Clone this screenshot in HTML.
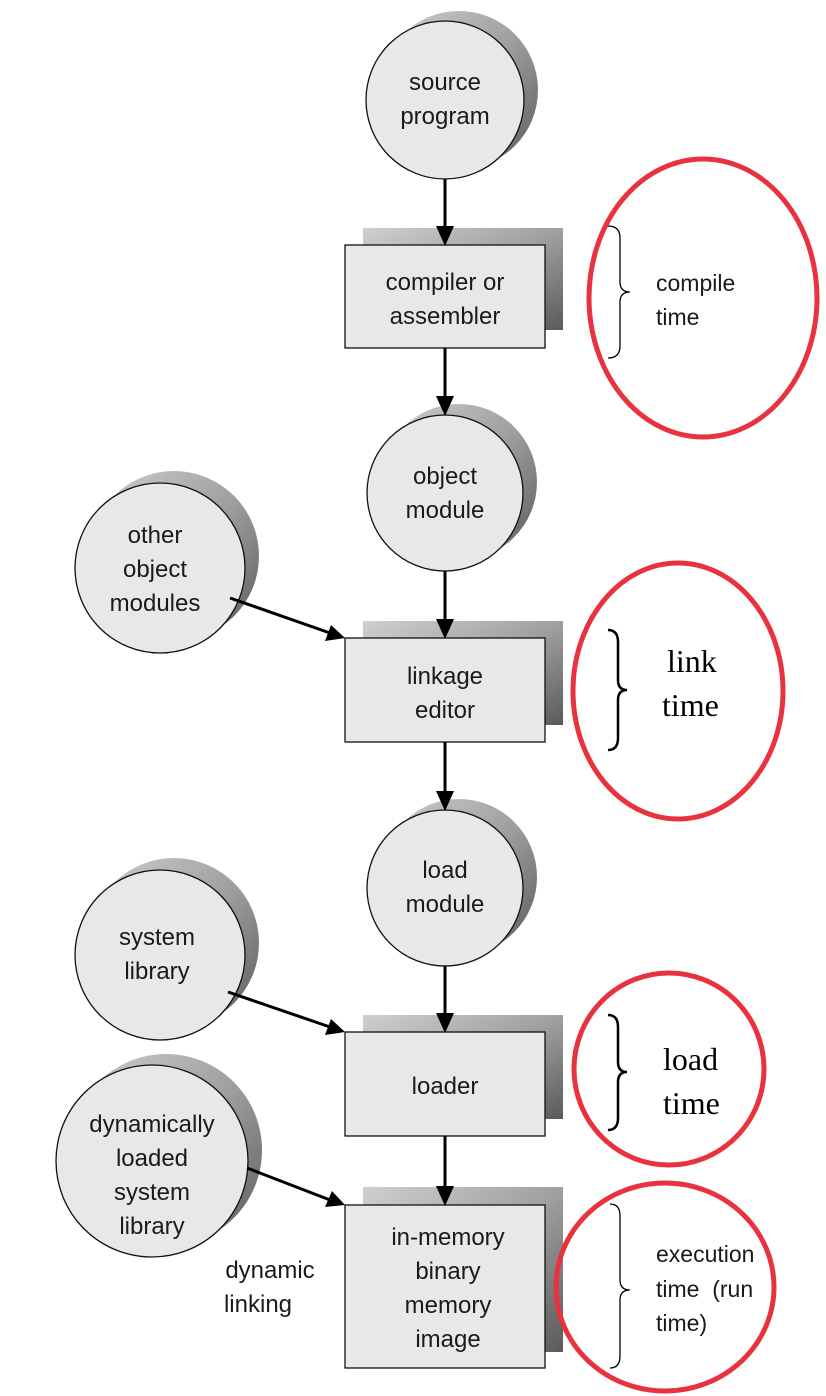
<!DOCTYPE html>
<html><head><meta charset="utf-8"><style>
html,body{margin:0;padding:0;background:#fff;}
svg{display:block;}
.n{font-family:"Liberation Sans",Arial,Helvetica,sans-serif;font-size:24px;fill:#1a1a1a;text-anchor:middle;}
.s{font-family:"Liberation Sans",Arial,Helvetica,sans-serif;font-size:23px;fill:#1a1a1a;}
.r{font-family:"Liberation Serif","Times New Roman",serif;font-size:32px;fill:#000;}
</style></head><body>
<svg width="826" height="1396" viewBox="0 0 826 1396" xmlns="http://www.w3.org/2000/svg">
<defs>
<linearGradient id="sh" x1="0" y1="0" x2="1" y2="1">
<stop offset="0" stop-color="#cfcfcf"/><stop offset="0.5" stop-color="#a0a0a0"/><stop offset="1" stop-color="#5a5a5a"/>
</linearGradient>
</defs>
<g fill="url(#sh)">
<circle cx="459" cy="90" r="79"/>
<rect x="363" y="228" width="200" height="102"/>
<circle cx="459" cy="482" r="78"/>
<rect x="363" y="621" width="200" height="104"/>
<circle cx="459" cy="877" r="78"/>
<rect x="363" y="1015" width="200" height="104"/>
<rect x="363" y="1187" width="200" height="165"/>
<circle cx="174" cy="556" r="85"/>
<circle cx="174" cy="943" r="85"/>
<circle cx="166" cy="1150" r="96"/>
</g>
<g fill="#e8e8e8" stroke="#111" stroke-width="1.3">
<circle cx="445" cy="100" r="79"/>
<rect x="345" y="245" width="200" height="103"/>
<circle cx="445" cy="493" r="78"/>
<rect x="345" y="638" width="200" height="104"/>
<circle cx="445" cy="888" r="78"/>
<rect x="345" y="1032" width="200" height="104"/>
<rect x="345" y="1205" width="200" height="163"/>
<circle cx="160" cy="568" r="85"/>
<circle cx="160" cy="955" r="85"/>
<circle cx="152" cy="1161" r="96"/>
</g>
<g stroke="#000" stroke-width="3" fill="none">
<line x1="445" y1="179" x2="445" y2="228"/>
<line x1="445" y1="348" x2="445" y2="398"/>
<line x1="445" y1="571" x2="445" y2="621"/>
<line x1="445" y1="742" x2="445" y2="793"/>
<line x1="445" y1="966" x2="445" y2="1015"/>
<line x1="445" y1="1136" x2="445" y2="1188"/>
<line x1="230" y1="598" x2="330" y2="633"/>
<line x1="228" y1="992" x2="330" y2="1027"/>
<line x1="247" y1="1168" x2="330" y2="1200"/>
</g>
<g fill="#000">
<polygon points="436,226 454,226 445,246"/>
<polygon points="436,396 454,396 445,416"/>
<polygon points="436,619 454,619 445,639"/>
<polygon points="436,791 454,791 445,811"/>
<polygon points="436,1013 454,1013 445,1033"/>
<polygon points="436,1186 454,1186 445,1206"/>
<polygon points="345,638 325,641 331,625"/>
<polygon points="345,1032 325,1035 331,1019"/>
<polygon points="345,1205 325,1207 332,1191"/>
</g>
<text class="n" x="445" y="90">source</text><text class="n" x="445" y="124">program</text>
<text class="n" x="445" y="290">compiler or</text><text class="n" x="445" y="324">assembler</text>
<text class="n" x="445" y="484">object</text><text class="n" x="445" y="518">module</text>
<text class="n" x="445" y="684">linkage</text><text class="n" x="445" y="718">editor</text>
<text class="n" x="445" y="878">load</text><text class="n" x="445" y="912">module</text>
<text class="n" x="445" y="1094">loader</text>
<text class="n" x="448" y="1245">in-memory</text><text class="n" x="448" y="1279">binary</text><text class="n" x="448" y="1313">memory</text><text class="n" x="448" y="1347">image</text>
<text class="n" x="155" y="543">other</text><text class="n" x="155" y="577">object</text><text class="n" x="155" y="611">modules</text>
<text class="n" x="157" y="945">system</text><text class="n" x="157" y="979">library</text>
<text class="n" x="152" y="1132">dynamically</text><text class="n" x="152" y="1166">loaded</text><text class="n" x="152" y="1200">system</text><text class="n" x="152" y="1234">library</text>
<text class="n" x="270" y="1278">dynamic</text><text class="n" x="258" y="1312">linking</text>
<g fill="none" stroke="#e8333f" stroke-width="5">
<ellipse cx="703" cy="298" rx="114" ry="139"/>
<ellipse cx="678" cy="691" rx="105" ry="128"/>
<ellipse cx="669" cy="1069" rx="95" ry="96"/>
<ellipse cx="665" cy="1287" rx="109" ry="104"/>
</g>
<g fill="none" stroke="#000">
<path stroke-width="1.3" d="M608,226 Q620,226 620,238 L620,282 Q620,292 630,292 Q620,292 620,302 L620,346 Q620,358 608,358"/>
<path stroke-width="2.5" d="M608,630 Q618,630 618,642 L618,680 Q618,690 627,690 Q618,690 618,700 L618,738 Q618,750 608,750"/>
<path stroke-width="2.5" d="M608,1015 Q618,1015 618,1027 L618,1062 Q618,1072 627,1072 Q618,1072 618,1082 L618,1118 Q618,1130 608,1130"/>
<path stroke-width="1.3" d="M610,1204 Q620,1204 620,1216 L620,1280 Q620,1290 630,1290 Q620,1290 620,1300 L620,1356 Q620,1368 610,1368"/>
</g>
<text class="s" x="656" y="291">compile</text><text class="s" x="656" y="325">time</text>
<text class="r" x="667" y="672">link</text><text class="r" x="662" y="716">time</text>
<text class="r" x="663" y="1070">load</text><text class="r" x="663" y="1114">time</text>
<text class="s" x="656" y="1262">execution</text><text class="s" x="656" y="1297">time&#160;&#160;(run</text><text class="s" x="656" y="1331">time)</text>
</svg>
</body></html>
